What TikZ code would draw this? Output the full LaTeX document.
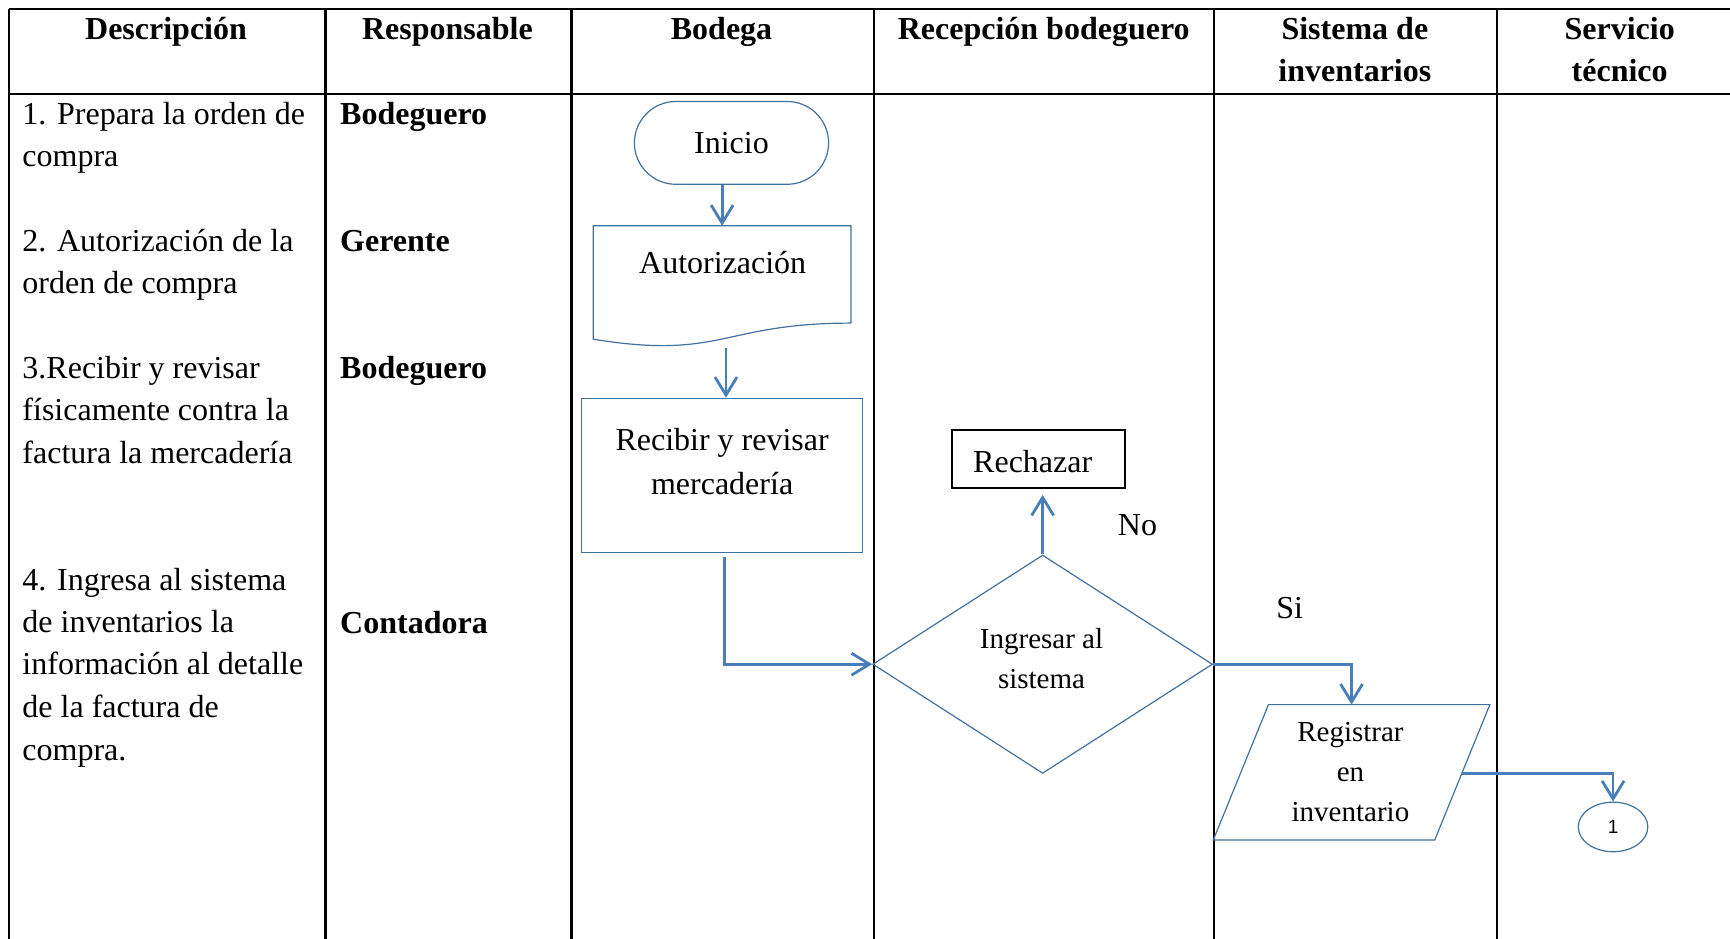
\documentclass[tikz,border=0pt]{standalone}
\usepackage{fontspec}
\setmainfont{Liberation Serif}
\newfontfamily\connfont{Liberation Sans}
\usetikzlibrary{arrows.meta,shapes.geometric,calc}
\definecolor{shapeblue}{RGB}{65,113,156}
\definecolor{arrowblue}{RGB}{74,126,187}

\begin{document}
\begin{tikzpicture}[x=0.5517bp,y=-0.5517bp,
  gridline/.style={line width=1.1bp, black},
  headtext/.style={font=\fontsize{16bp}{21bp}\selectfont\bfseries, anchor=base, inner sep=0},
  desc/.style={font=\fontsize{16bp}{21bp}\selectfont, anchor=base west, inner sep=0},
  who/.style={font=\fontsize{16bp}{21bp}\selectfont\bfseries, anchor=base west, inner sep=0},
  outline/.style={draw=shapeblue, line width=0.6bp},
  flowtext/.style={font=\fontsize{16bp}{22bp}\selectfont, align=center, inner sep=0},
  smalltext/.style={font=\fontsize{14.5bp}{20bp}\selectfont, align=center, inner sep=0},
  arr/.style={draw=arrowblue, line width=1.4bp, -{Straight Barb[length=9bp,width=11bp]}},
]
\useasboundingbox (0,0) rectangle (1568,851);

% table frame and column rules
\draw[gridline] (8,8) -- (1568,8);
\draw[gridline] (8,85) -- (1568,85);
\foreach \x in {8,295,518,792,1100,1357}
  \draw[gridline] (\x,8) -- (\x,851);

% column headings
\node[headtext] (hDesc) at (150.5,36) {Descripción};
\node[headtext] (hResp) at (405.5,36) {Responsable};
\node[headtext] (hBod)  at (654,36) {Bodega};
\node[headtext] (hRec)  at (946,36) {Recepción bodeguero};
\node[headtext] (hSisA) at (1228,36) {Sistema de};
\node[headtext] (hSisB) at (1228,74) {inventarios};
\node[headtext] (hSerA) at (1468,36) {Servicio};
\node[headtext] (hSerB) at (1468,74) {técnico};

% step descriptions
\node[desc] (d1a) at (20,113) {1. Prepara la orden de};
\node[desc] (d1b) at (20,151) {compra};
\node[desc] (d2a) at (20,228) {2. Autorización de la};
\node[desc] (d2b) at (20,266) {orden de compra};
\node[desc] (d3a) at (20,343) {3.Recibir y revisar};
\node[desc] (d3b) at (20,381) {físicamente contra la};
\node[desc] (d3c) at (20,420) {factura la mercadería};
\node[desc] (d4a) at (20,535) {4. Ingresa al sistema};
\node[desc] (d4b) at (20,573) {de inventarios la};
\node[desc] (d4c) at (20,611) {información al detalle};
\node[desc] (d4d) at (20,650) {de la factura de};
\node[desc] (d4e) at (20,689) {compra.};

% responsible people
\node[who] (r1) at (308,113) {Bodeguero};
\node[who] (r2) at (308,228) {Gerente};
\node[who] (r3) at (308,343) {Bodeguero};
\node[who] (r4) at (308,574) {Contadora};

% start terminator
\node[outline, flowtext, rounded corners=20.7bp, minimum width=97.1bp, minimum height=41.4bp]
  (ini) at (663,129.5) {Inicio};

% document shape
\node[inner sep=0, minimum width=128.5bp, minimum height=60.7bp] (aut) at (654.5,260) {};
\draw[outline] (aut.north west) -- (aut.north east) -- ($(aut.north east)+(0,88.2)$)
  .. controls ($(aut.north)+(0,88.2)$) and ($(aut.north)+(0,121.8)$) ..
  ($(aut.north west)+(0,102.8)$) -- cycle;
\node[flowtext] (autT) at (655,238) {Autorización};

% process box
\node[outline, inner sep=0, minimum width=140.7bp, minimum height=77.2bp] (rec) at (654.5,431) {};
\node[flowtext] (recT) at (654.5,418) {Recibir y revisar\\mercadería};

% reject box
\node[draw=black, line width=1.1bp, inner sep=0, minimum width=86.6bp, minimum height=28.7bp]
  (rech) at (941.5,416) {};
\node[flowtext] (rechT) at (936,418) {Rechazar};

% decision
\node[outline, diamond, inner sep=0, minimum width=169.9bp, minimum height=109.2bp] (dia) at (945,602) {};
\node[smalltext] (diaT) at (944,596.5) {Ingresar al\\sistema};

% input/output parallelogram
\node[inner sep=0, minimum width=137.9bp, minimum height=67.3bp] (reg) at (1225,700) {};
\draw[outline] ($(reg.north west)+(50,0)$) -- (reg.north east)
  -- ($(reg.south east)+(-50,0)$) -- (reg.south west) -- cycle;
\node[smalltext, font=\fontsize{14.5bp}{19.9bp}\selectfont] (regT) at (1224,699.5) {Registrar\\en\\inventario};

% off-page connector
\node[outline, ellipse, inner sep=0, minimum width=34.8bp, minimum height=24.8bp,
  font=\connfont\fontsize{9.5bp}{10bp}\selectfont] (conn) at (1462,749.5) {1};

% branch labels
\node[flowtext] (lblNo) at (1031,476) {No};
\node[flowtext] (lblSi) at (1169,551) {Si};

% flow connectors
\coordinate (rechB) at (rech.south -| dia.north);
\coordinate (regR) at ($(reg.east)+(-25,1)$);
\draw[arr] (ini.south -| aut.north) -- (aut.north);
\draw[arr] ($(aut.south)+(3.5,0)$) -- ($(rec.north)+(3.5,0)$);
\draw[arr] ($(rec.south)+(2.5,3)$) |- (dia.west);
\draw[arr, shorten >=3bp] (dia.north) -- (rechB);
\draw[arr] (dia.east) -| (reg.north);
\draw[arr] (regR) -| (conn.north);
\end{tikzpicture}
\end{document}
